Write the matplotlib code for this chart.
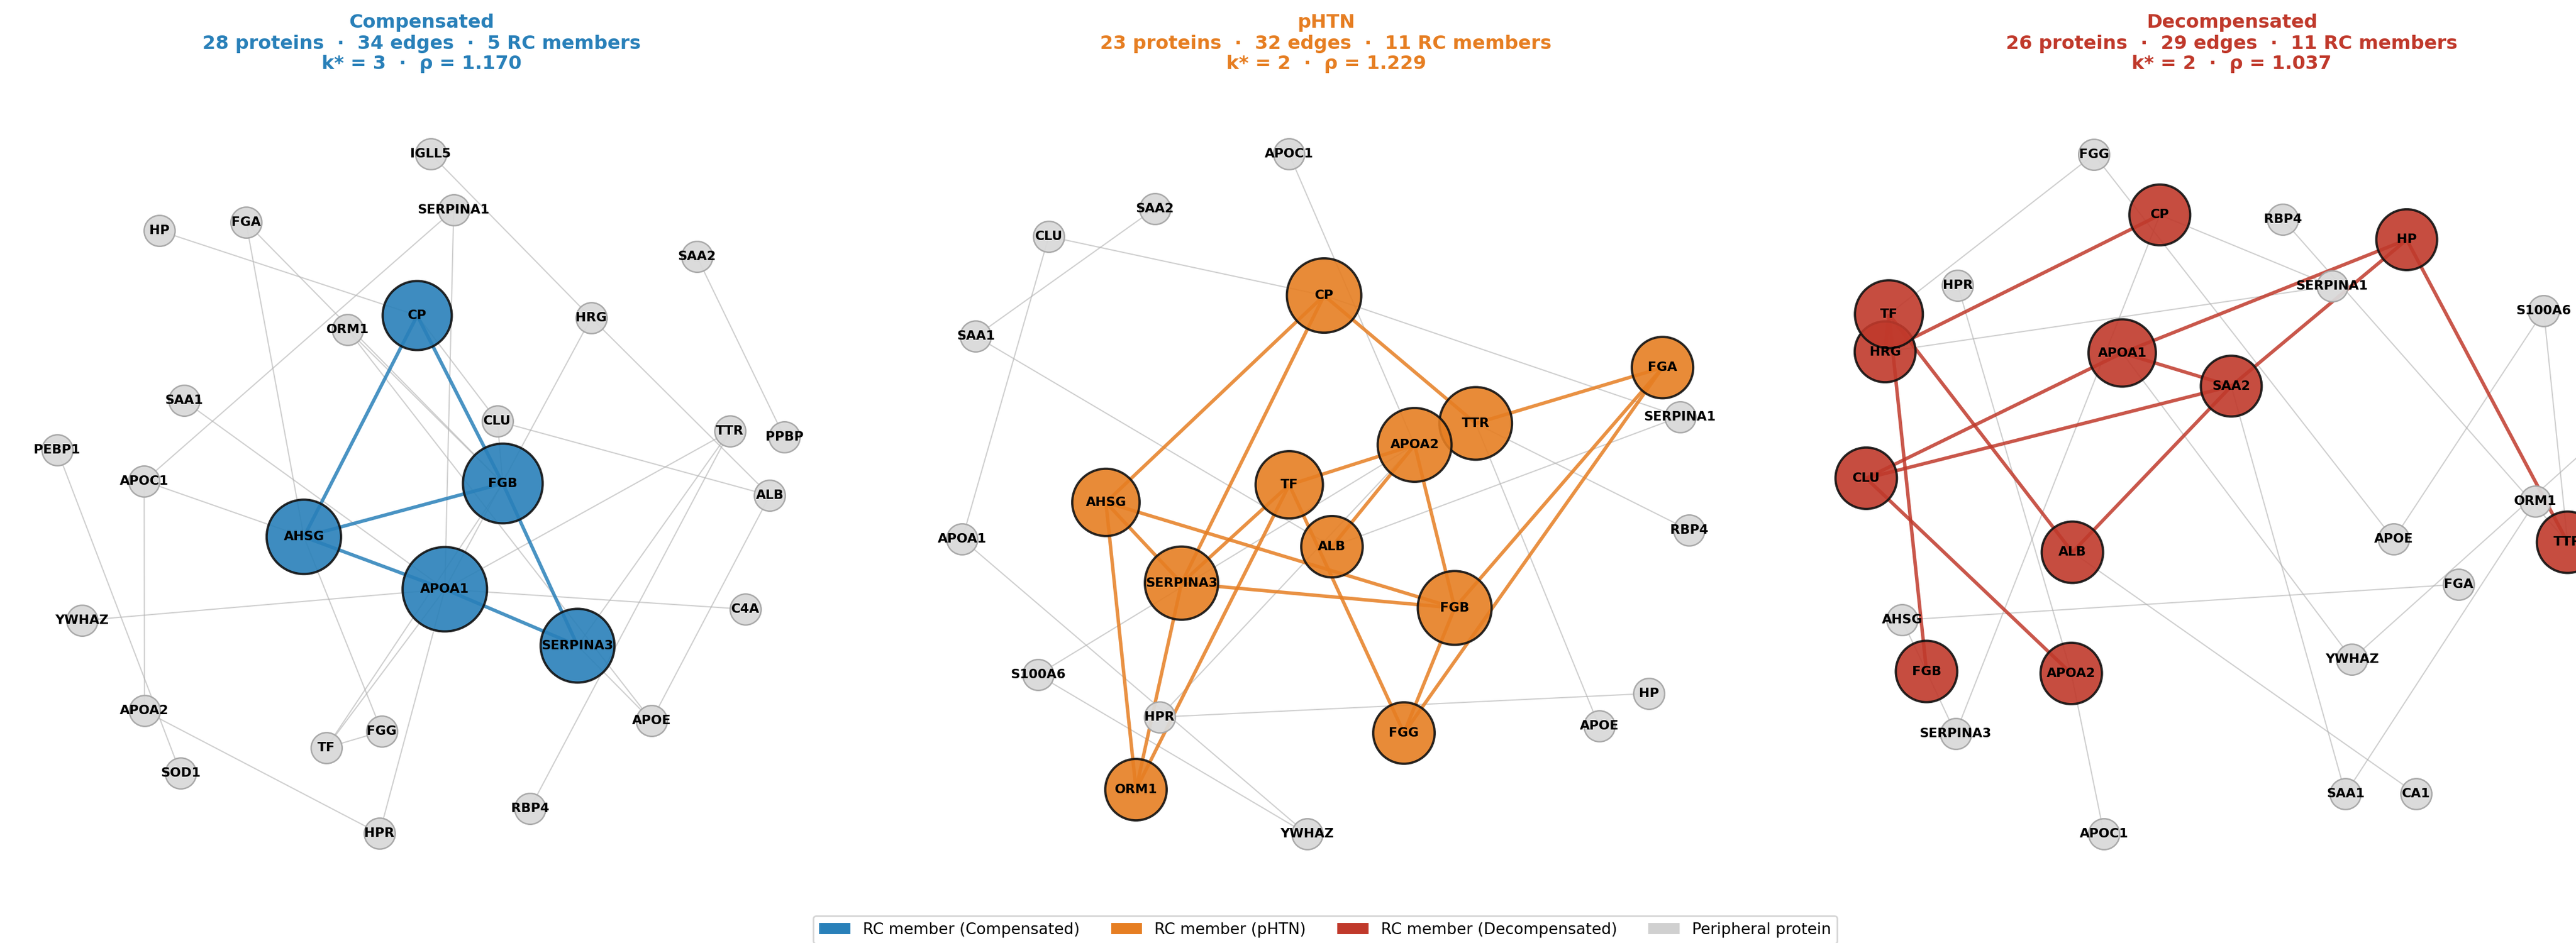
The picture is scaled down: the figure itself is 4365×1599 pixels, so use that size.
import matplotlib
matplotlib.use("Agg")
import matplotlib.pyplot as plt
from matplotlib.collections import LineCollection
from matplotlib.patches import Patch

plt.rcParams["font.family"] = ["DejaVu Sans"]

# ---------------------------------------------------------------- data
stages = ["Compensated", "pHTN", "Decompensated"]
n_proteins = [28, 23, 26]
n_edges = [34, 32, 29]
n_rc = [5, 11, 11]
k_star = [3, 2, 2]
rho = [1.170, 1.229, 1.037]

# network layouts (x relative to panel centre, y downwards)
comp_layout = {
    "IGLL5": (5.5, 93.8), "SERPINA1": (19.5, 127.8), "HP": (-159.7, 140.5),
    "FGA": (-106.9, 135.4), "SAA2": (167.5, 156.3), "CP": (-2.7, 192.2),
    "ORM1": (-45.1, 200.8), "HRG": (103.2, 193.6), "SAA1": (-144.7, 244.0),
    "CLU": (46.1, 256.5), "TTR": (187.6, 262.6), "PPBP": (220.7, 266.2),
    "PEBP1": (-221.9, 274.0), "APOC1": (-168.9, 293.0), "FGB": (49.4, 294.5),
    "ALB": (211.9, 301.8), "AHSG": (-71.7, 327.0), "APOA1": (14.1, 358.9),
    "C4A": (197.0, 371.1), "YWHAZ": (-206.7, 378.0), "SERPINA3": (94.9, 393.3),
    "APOA2": (-168.7, 433.0), "APOE": (139.9, 438.9), "FGG": (-24.3, 445.5),
    "TF": (-58.1, 455.5), "SOD1": (-146.7, 471.0), "RBP4": (65.9, 492.5),
    "HPR": (-25.7, 507.7),
}
comp_rc = ["CP", "AHSG", "FGB", "SERPINA3", "APOA1"]
comp_rc_edges = [
    ("CP", "AHSG"), ("CP", "FGB"), ("FGB", "SERPINA3"), ("AHSG", "FGB"),
    ("AHSG", "APOA1"), ("APOA1", "SERPINA3"),
]
comp_edges = [
    ("IGLL5", "HRG"), ("SERPINA1", "APOC1"), ("SERPINA1", "APOA1"), ("HP", "CP"),
    ("FGA", "AHSG"), ("FGA", "FGB"), ("ORM1", "FGB"), ("ORM1", "APOE"),
    ("SAA2", "PPBP"), ("HRG", "APOA1"), ("HRG", "ALB"), ("CLU", "ALB"),
    ("CP", "CLU"), ("CLU", "FGB"), ("TTR", "APOA1"), ("TTR", "SERPINA3"),
    ("TTR", "RBP4"), ("ALB", "APOE"), ("APOA1", "C4A"), ("APOA1", "YWHAZ"),
    ("AHSG", "APOC1"), ("APOC1", "APOA2"), ("PEBP1", "SOD1"), ("APOA2", "HPR"),
    ("SAA1", "APOA1"), ("AHSG", "FGG"), ("APOA1", "TF"), ("FGB", "TF"),
    ("TF", "FGG"), ("APOA1", "HPR"), ("SERPINA3", "APOE"),
]

phtn_layout = {
    "APOC1": (-22.5, 93.8), "SAA2": (-104.2, 127.0), "CLU": (-168.8, 144.0),
    "SAA1": (-213.2, 204.8), "CP": (-1.2, 180.0), "FGA": (204.8, 223.9),
    "SERPINA1": (215.5, 253.8), "TTR": (91.1, 257.9), "APOA2": (53.9, 271.0),
    "TF": (-22.4, 295.3), "AHSG": (-134.0, 306.0), "RBP4": (221.0, 322.9),
    "APOA1": (-221.5, 328.4), "ALB": (3.6, 333.0), "SERPINA3": (-88.0, 355.2),
    "FGB": (78.3, 370.3), "S100A6": (-175.4, 411.0), "HP": (196.5, 422.4),
    "HPR": (-101.4, 436.8), "APOE": (166.2, 442.3), "FGG": (47.4, 446.5),
    "ORM1": (-115.7, 481.0), "YWHAZ": (-11.6, 508.0),
}
phtn_rc = ["CP", "TTR", "APOA2", "TF", "AHSG", "ALB", "SERPINA3", "FGB",
           "FGG", "ORM1", "FGA"]
phtn_rc_edges = [
    ("CP", "AHSG"), ("CP", "SERPINA3"), ("CP", "TTR"), ("AHSG", "SERPINA3"),
    ("AHSG", "FGB"), ("AHSG", "ORM1"), ("SERPINA3", "TF"), ("SERPINA3", "FGB"),
    ("SERPINA3", "ORM1"), ("TF", "APOA2"), ("TF", "ORM1"), ("TF", "FGG"),
    ("APOA2", "ALB"), ("APOA2", "FGB"), ("TTR", "FGA"), ("FGB", "FGG"),
    ("FGA", "FGB"), ("FGA", "FGG"),
]
phtn_edges = [
    ("APOC1", "APOA2"), ("CLU", "CP"), ("CLU", "APOA1"), ("SAA2", "SAA1"),
    ("SAA1", "ALB"), ("CP", "SERPINA1"), ("TTR", "RBP4"), ("TTR", "APOE"),
    ("ALB", "SERPINA1"), ("S100A6", "APOA2"), ("HPR", "APOA2"), ("HPR", "HP"),
    ("S100A6", "YWHAZ"), ("APOA1", "YWHAZ"),
]

deco_layout = {
    "FGG": (-83.9, 94.1), "CP": (-43.8, 130.9), "RBP4": (31.1, 133.7),
    "HP": (106.5, 146.0), "HPR": (-166.8, 173.8), "SERPINA1": (61.0, 174.2),
    "S100A6": (189.9, 189.4), "HRG": (-211.0, 214.3), "TF": (-208.7, 191.4),
    "APOA1": (-66.7, 215.0), "SAA2": (-0.3, 235.2), "PPBP": (222.0, 268.0),
    "CLU": (-222.5, 291.3), "ORM1": (184.9, 305.5), "APOE": (98.5, 328.4),
    "TTR": (204.4, 330.3), "ALB": (-97.0, 336.4), "FGA": (138.1, 355.9),
    "AHSG": (-200.7, 377.7), "YWHAZ": (73.2, 401.5), "FGB": (-185.8, 409.0),
    "APOA2": (-97.7, 410.2), "SERPINA3": (-168.1, 446.7), "SAA1": (69.2, 483.5),
    "CA1": (112.2, 483.5), "APOC1": (-77.8, 507.9),
}
deco_rc = ["CP", "HP", "HRG", "TF", "APOA1", "SAA2", "CLU", "ALB", "FGB",
           "APOA2", "TTR"]
deco_rc_edges = [
    ("CP", "HRG"), ("TF", "HRG"), ("TF", "FGB"), ("TF", "ALB"), ("CLU", "APOA1"),
    ("CLU", "SAA2"), ("CLU", "APOA2"), ("APOA1", "SAA2"), ("APOA1", "HP"),
    ("SAA2", "HP"), ("SAA2", "ALB"), ("HP", "TTR"),
]
deco_edges = [
    ("FGG", "TF"), ("FGG", "APOE"), ("CP", "SERPINA1"), ("HRG", "SERPINA1"),
    ("RBP4", "TTR"), ("HPR", "APOA2"), ("APOA2", "APOC1"), ("CP", "SERPINA3"),
    ("AHSG", "FGA"), ("AHSG", "FGB"), ("FGB", "SERPINA3"), ("ALB", "CA1"),
    ("APOA1", "YWHAZ"), ("SAA2", "SAA1"), ("S100A6", "APOE"), ("S100A6", "TTR"),
    ("YWHAZ", "PPBP"), ("ORM1", "SAA1"),
]

# ---------------------------------------------------------------- style
COLORS = ["#2980b9", "#e67e22", "#c0392b"]
PERIPHERAL = "#d0d0d0"
# rich-club node diameters in pixels
comp_diam = {"CP": 121, "FGB": 139, "AHSG": 130, "APOA1": 147, "SERPINA3": 129}
phtn_diam = {"CP": 130, "TTR": 127, "APOA2": 129, "TF": 118, "AHSG": 118,
             "ALB": 108, "SERPINA3": 128, "FGB": 129, "FGG": 108, "ORM1": 108,
             "FGA": 108}
deco_diam = {"CP": 107, "HP": 107, "TF": 119, "HRG": 107, "APOA1": 118,
             "SAA2": 107, "CLU": 108, "ALB": 108, "FGB": 108, "APOA2": 108,
             "TTR": 108}
PERI_DIAM = 55

panels = [
    (comp_layout, comp_rc, comp_rc_edges, comp_edges, comp_diam),
    (phtn_layout, phtn_rc, phtn_rc_edges, phtn_edges, phtn_diam),
    (deco_layout, deco_rc, deco_rc_edges, deco_edges, deco_diam),
]

FIG_W, FIG_H, DPI = 4365, 1599, 200
UNIT = FIG_W / 1568.0          # pixels per layout unit
centers_px = [714.5, 2247.0, 3781.7]
span_px = 1533.6

fig = plt.figure(figsize=(FIG_W / DPI, FIG_H / DPI), dpi=DPI)

RC_LW = 1.4
PERI_LW = 0.9


def px_to_s(d_px, lw):
    d_pt = d_px * 72.0 / DPI - lw
    return d_pt * d_pt


for i, (layout, rc, rc_edges, edges, diam) in enumerate(panels):
    col = COLORS[i]
    left = (centers_px[i] - span_px / 2) / FIG_W
    ax = fig.add_axes([left, 0, span_px / FIG_W, 1])
    half = span_px / 2 / UNIT
    ax.set_xlim(-half, half)
    ax.set_ylim(FIG_H / UNIT, 0)
    ax.axis("off")

    # peripheral edges
    segs = [[layout[a], layout[b]] for a, b in edges]
    ax.add_collection(LineCollection(segs, colors="#b0b0b0", linewidths=0.75,
                                     alpha=0.6, zorder=1, clip_on=False))
    # rich-club edges
    segs = [[layout[a], layout[b]] for a, b in rc_edges]
    ax.add_collection(LineCollection(segs, colors=col, linewidths=2.1,
                                     alpha=0.85, zorder=2, clip_on=False))

    # peripheral nodes
    peri = [n for n in layout if n not in rc]
    ax.scatter([layout[n][0] for n in peri], [layout[n][1] for n in peri],
               s=px_to_s(PERI_DIAM, PERI_LW), c="#d9d9d9", edgecolors="#a6a6a6",
               linewidths=PERI_LW, alpha=0.95, zorder=3, clip_on=False)
    # rich-club nodes
    order = [n for n in layout if n in rc]
    ax.scatter([layout[n][0] for n in order], [layout[n][1] for n in order],
               s=[px_to_s(diam[n], RC_LW) for n in order], c=col,
               edgecolors="#111111", linewidths=RC_LW, alpha=0.9, zorder=4,
               clip_on=False)

    for n, (x, y) in layout.items():
        ax.text(x, y, n, ha="center", va="center", fontsize=7.9,
                fontweight="bold", color="black", zorder=6, clip_on=False)

    lines = [
        stages[i],
        f"{n_proteins[i]} proteins  \u00b7  {n_edges[i]} edges  \u00b7  {n_rc[i]} RC members",
        f"k* = {k_star[i]}  \u00b7  \u03c1 = {rho[i]:.3f}",
    ]
    for j, (txt, base) in enumerate(zip(lines, [47.4, 82.7, 117.3])):
        fig.text(centers_px[i] / FIG_W, 1 - base / FIG_H, txt, ha="center",
                 va="baseline", fontsize=11.5, fontweight="bold", color=col)

handles = [Patch(facecolor=COLORS[0], label="RC member (Compensated)"),
           Patch(facecolor=COLORS[1], label="RC member (pHTN)"),
           Patch(facecolor=COLORS[2], label="RC member (Decompensated)"),
           Patch(facecolor=PERIPHERAL, label="Peripheral protein")]
fig.legend(handles=handles, loc="upper center", ncol=4, fontsize=9.5,
           bbox_to_anchor=(2245.5 / FIG_W, 1 - 1553 / FIG_H),
           borderaxespad=0.0, frameon=True)

fig.savefig("out.png", dpi=DPI)
